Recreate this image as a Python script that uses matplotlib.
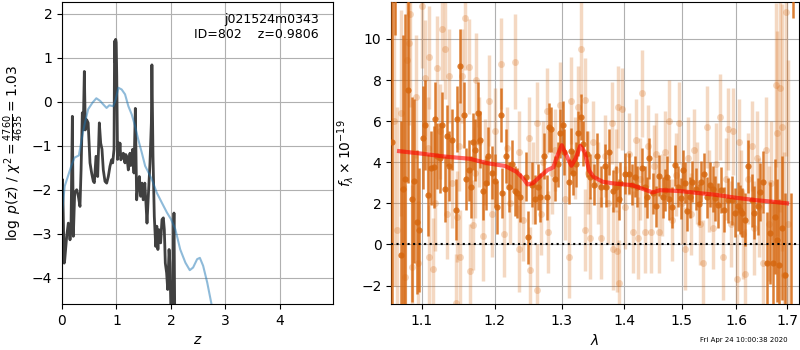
import matplotlib
matplotlib.use('Agg')
import matplotlib.pyplot as plt
import matplotlib.ticker as mticker

# --- p(z) panel data ---
z_grid = [0.0, 0.01, 0.04, 0.05, 0.086, 0.116, 0.147, 0.165, 0.19, 0.208, 0.233, 0.27, 0.30,
          0.33, 0.35, 0.373, 0.39, 0.41, 0.428, 0.453, 0.48, 0.514, 0.544, 0.575, 0.594, 0.624,
          0.655, 0.685, 0.71, 0.734, 0.758, 0.789, 0.82, 0.85, 0.88, 0.91, 0.93, 0.955, 0.965,
          0.975, 0.985, 0.995, 1.005, 1.02, 1.035, 1.05, 1.064, 1.08, 1.1, 1.125, 1.14, 1.156,
          1.17, 1.187, 1.2, 1.217, 1.235, 1.248, 1.262, 1.278, 1.297, 1.321, 1.346, 1.37, 1.395,
          1.419, 1.444, 1.468, 1.49, 1.52, 1.544, 1.56, 1.59, 1.615, 1.64, 1.65, 1.67, 1.694,
          1.72, 1.74, 1.76, 1.78, 1.81, 1.835, 1.86, 1.878, 1.896, 1.92, 1.94, 1.965, 1.98,
          2.0, 2.03, 2.055, 2.07, 2.1, 2.3, 3.0, 4.97]
logpz = [-1.9, -1.77, -3.67, -3.6, -3.06, -2.76, -3.14, -2.9, -0.33, -3.06, -2.07, -2.0, -2.15,
         -2.38, -1.55, -0.25, -0.64, 0.69, -0.64, -0.41, -0.48, -1.39, -1.62, -1.81, -1.84, -1.24,
         -1.70, -0.48, -0.94, -1.08, -1.55, -1.81, -1.85, -1.70, -1.47, -1.32, -1.39, -1.08, 1.38,
         0.9, 1.42, 1.35, 0.58, -1.31, -0.93, -1.2, -0.94, -1.32, -1.25, -1.17, -1.3, -1.39,
         -1.2, -1.24, -1.35, -1.55, -1.3, -1.17, -1.45, -1.39, -1.08, -1.62, -0.15, -2.23, -1.92,
         -1.70, -2.15, -1.85, -2.23, -1.85, -2.38, -2.76, -2.0, -1.39, -0.48, 0.84, -1.24, -2.61,
         -3.29, -2.83, -3.36, -2.91, -3.21, -2.68, -2.64, -2.91, -3.67, -3.89, -4.27, -3.36, -3.67,
         -4.8, -4.9, -2.53, -5.0, -6.5, -10.0, -20.0, -40.0]

z_chi2 = [0.0, 0.05, 0.11, 0.17, 0.23, 0.31, 0.36, 0.42, 0.48, 0.56, 0.63, 0.70, 0.757, 0.818,
          0.868, 0.94, 0.985, 1.034, 1.095, 1.157, 1.218, 1.28, 1.34, 1.40, 1.465, 1.526, 1.588,
          1.65, 1.74, 1.834, 1.926, 2.0, 2.08, 2.17, 2.265, 2.345, 2.406, 2.48, 2.53, 2.59,
          2.665, 2.74, 2.9, 3.5]
logp_chi2 = [-2.52, -1.92, -1.69, -1.46, -1.27, -1.22, -0.86, -0.48, -0.17, -0.02, 0.08, 0.02,
             -0.06, -0.14, -0.08, -0.10, 0.05, 0.32, 0.28, 0.17, -0.10, -0.29, -0.55, -0.86,
             -1.16, -1.46, -1.61, -1.77, -2.07, -2.30, -2.52, -2.67, -2.90, -3.36, -3.66, -3.83,
             -3.77, -3.58, -3.55, -3.73, -4.11, -4.58, -6.0, -12.0]

# --- spectrum panel data (flux in 1e-19 units) ---
wave_a = [1.062, 1.066, 1.074, 1.076, 1.079, 1.083, 1.087, 1.090, 1.0945, 1.097, 1.1017, 1.104,
          1.109, 1.113, 1.116, 1.118, 1.121, 1.124, 1.127, 1.131, 1.134, 1.137, 1.141, 1.146,
          1.148, 1.152, 1.157, 1.160, 1.164, 1.167, 1.169, 1.173, 1.1765, 1.179, 1.184, 1.188,
          1.191, 1.197, 1.200, 1.204, 1.209, 1.211, 1.217, 1.221, 1.225, 1.230, 1.233, 1.237,
          1.2458, 1.249, 1.254, 1.2596, 1.263, 1.266, 1.2727, 1.277, 1.2797, 1.2837, 1.289,
          1.294, 1.298, 1.302, 1.304, 1.3105, 1.314, 1.317, 1.323, 1.325, 1.3296, 1.334, 1.339,
          1.3446, 1.351, 1.356, 1.3626, 1.368, 1.371, 1.376, 1.382, 1.387, 1.391, 1.394, 1.4017,
          1.408, 1.414, 1.418, 1.422, 1.4297, 1.435, 1.439, 1.443, 1.449, 1.4537, 1.460, 1.466,
          1.470, 1.474, 1.478, 1.482, 1.4875, 1.493, 1.498, 1.502, 1.506, 1.510, 1.515, 1.519,
          1.525, 1.530, 1.535, 1.540, 1.545, 1.551, 1.556, 1.560, 1.566, 1.572, 1.578, 1.584,
          1.592, 1.597, 1.603, 1.607, 1.612, 1.617, 1.623, 1.630, 1.635, 1.642, 1.646, 1.653,
          1.660, 1.666, 1.672, 1.675, 1.680, 1.684, 1.690, 1.696, 1.709, 1.713]
flux_a = [5.0, 14.5, -0.5, 2.7, 3.2, 7.5, 2.2, 3.1, 1.1, 0.7, 5.2, 5.8,
          2.4, 3.7, 3.75, 6.1, 4.3, 4.2, 5.8, 2.7, 5.3, 3.8, 5.1, 1.7,
          6.1, 8.7, 6.3, 3.2, 3.6, 2.8, 5.0, 4.6, 6.4, 5.1, 2.6, 3.0,
          4.3, 3.5, 3.1, 1.8, 6.3, 2.5, 4.3, 2.8, 3.9, 2.6, 2.5, 2.3,
          3.3, 0.35, 2.9, 2.2, 2.8, 2.3, 4.3, 2.3, 5.7, 5.6, 3.2,
          3.9, 5.4, 5.8, 4.5, 3.05, 4.55, 3.5, 3.9, 5.4, 6.2, 4.9, 4.4,
          3.3, 2.9, 4.3, 2.8, 3.8, 2.8, 4.5, 2.6, 2.8, 2.2, 3.0, 3.45,
          3.45, 2.9, 3.3, 2.8, 3.7, 2.8, 2.3, 4.2, 2.5, 1.85, 3.35, 2.3,
          2.65, 3.3, 2.2, 1.8, 3.85, 2.8, 2.25, 3.6, 3.0, 1.65, 2.3, 3.05,
          2.7, 1.95, 3.05, 3.45, 2.3, 2.9, 2.7, 2.25, 1.9, 2.65, 1.7, 2.15,
          2.15, 1.55, 1.85, 1.7, 1.55, 1.2, 3.8, 2.15, 1.55, 1.85, 2.55, 3.05,
          -0.9, 0.55, -0.9, 1.35, 0.2, -1.0, 0.8, -1.5, -5.0, 15.0]
err_a = [9.5, 4.3, 6.5, 7.5, 8.0, 4.5, 5.0, 4.0, 3.5, 3.0, 2.5, 2.2,
         2.0, 1.8, 2.0, 1.8, 1.6, 1.7, 1.6, 1.6, 1.5, 1.7, 1.5, 1.5,
         1.6, 1.8, 1.6, 1.5, 1.5, 1.5, 1.4, 1.5, 1.5, 1.4, 1.4, 1.3,
         1.4, 1.3, 1.3, 1.3, 1.3, 1.2, 1.3, 1.2, 1.2, 1.2, 1.2, 1.2,
         1.2, 1.3, 1.1, 1.2, 1.1, 1.2, 1.1, 1.1, 1.2, 1.1, 1.1,
         1.1, 1.2, 1.2, 1.1, 1.1, 1.1, 1.1, 1.1, 1.1, 1.1, 1.1, 1.1,
         1.1, 1.0, 1.1, 1.0, 1.1, 1.0, 1.1, 1.0, 1.0, 1.0, 1.0, 1.0,
         1.0, 1.0, 1.0, 1.0, 1.0, 1.0, 1.0, 1.0, 1.0, 1.0, 1.0, 1.0,
         1.0, 1.0, 1.0, 1.0, 1.0, 1.0, 1.0, 1.0, 1.0, 1.0, 1.0, 1.0,
         1.0, 1.0, 1.0, 1.0, 1.0, 1.1, 1.1, 1.1, 1.1, 1.1, 1.1, 1.1,
         1.2, 1.2, 1.2, 1.2, 1.2, 1.3, 1.3, 1.3, 1.3, 1.4, 1.4, 1.5,
         2.5, 2.5, 3.0, 2.8, 3.0, 3.2, 3.5, 4.0, 7.5, 4.0]

wave_b = [1.064, 1.068, 1.0735, 1.079, 1.081, 1.0835, 1.0845, 1.088, 1.0925, 1.095, 1.101, 1.104,
          1.108, 1.110, 1.1105, 1.115, 1.118, 1.121, 1.124, 1.1275, 1.131, 1.134, 1.137, 1.141,
          1.146, 1.147, 1.150, 1.152, 1.1545, 1.159, 1.164, 1.165, 1.170, 1.172, 1.1738, 1.178,
          1.183, 1.187, 1.192, 1.196, 1.201, 1.2097, 1.213, 1.218, 1.222, 1.2297, 1.235, 1.236,
          1.241, 1.250, 1.251, 1.256, 1.262, 1.2625, 1.268, 1.272, 1.277, 1.279, 1.285, 1.290,
          1.298, 1.305, 1.311, 1.314, 1.320, 1.325, 1.330, 1.336, 1.337, 1.341, 1.345, 1.350,
          1.357, 1.3626, 1.368, 1.374, 1.380, 1.381, 1.386, 1.389, 1.3905, 1.391, 1.396, 1.402,
          1.408, 1.415, 1.420, 1.423, 1.427, 1.431, 1.435, 1.440, 1.446, 1.451, 1.455, 1.459,
          1.464, 1.470, 1.478, 1.483, 1.489, 1.494, 1.500, 1.506, 1.511, 1.517, 1.522, 1.528,
          1.533, 1.538, 1.545, 1.550, 1.556, 1.562, 1.570, 1.575, 1.580, 1.585, 1.590, 1.594,
          1.602, 1.605, 1.610, 1.614, 1.618, 1.622, 1.630, 1.635, 1.640, 1.645, 1.653, 1.658,
          1.663, 1.668, 1.6785, 1.680, 1.686, 1.690, 1.694, 1.697, 1.702]
flux_b = [6.0, 0.7, 6.4, -1.6, 9.0, 9.8, 11.2, -1.1, 7.2, -0.9, 11.6, 8.1,
          4.7, -0.6, 9.1, -1.2, 2.0, 8.6, 5.5, 10.5, 9.5, 1.5, 8.2, 3.0,
          -2.85, 1.35, 4.8, -0.6, 8.2, 11.0, 8.65, -1.3, 0.95, 3.5, 8.0, 5.0,
          0.4, 4.0, 7.0, 1.5, 5.5, 8.8, 0.5, 4.7, 2.0, 8.9, -0.2, 4.5,
          1.2, 5.2, -1.25, 3.0, -2.2, 5.9, 1.5, 4.0, 6.5, 0.6, 3.5, 4.6,
          6.8, 2.2, -0.6, 7.0, 4.2, 6.7, 9.5, 7.05, 0.7, 3.5, 0.3, 5.0,
          3.0, 0.3, 4.3, 2.0, 5.9, -0.2, 3.6, -0.3, 6.7, -1.9, 6.6, 1.8,
          4.4, 0.6, 5.1, 0.3, 3.2, 7.35, 0.6, 4.8, 0.6, 3.8, 4.4, 0.6,
          2.4, 4.5, 6.0, 1.2, 3.4, 5.9, 2.0, -0.2, 4.2, 1.5, 4.6, 3.0,
          1.0, -0.9, 5.7, 2.6, 0.8, 3.9, 6.2, -0.6, 3.2, 5.6, 1.0, 5.5,
          -1.7, 5.0, 2.5, 0.5, -1.45, 3.2, 4.8, 0.8, 4.2, 1.8, -0.9, 4.6,
          1.0, 3.0, 7.75, 5.4, 7.6, 5.7, -1.5, 11.3, 1.0]
err_b = [8.0, 6.0, 5.0, 4.5, 4.5, 4.0, 4.5, 4.0, 3.0, 3.0, 3.0, 2.8,
         2.5, 2.5, 2.5, 2.5, 2.3, 2.5, 2.3, 2.5, 2.4, 2.2, 2.3, 2.2,
         2.4, 2.2, 2.2, 2.3, 2.3, 2.5, 2.3, 2.3, 2.2, 2.2, 2.3, 2.2,
         2.2, 2.1, 2.2, 2.1, 2.1, 2.2, 2.1, 2.0, 2.0, 2.3, 2.1, 2.0,
         2.0, 2.0, 2.1, 2.0, 2.2, 2.0, 2.0, 2.0, 2.1, 2.0, 2.0, 2.0,
         2.1, 2.0, 2.0, 2.1, 2.0, 2.0, 2.3, 2.0, 2.0, 2.0, 2.0, 2.0,
         2.0, 2.0, 2.0, 2.0, 2.0, 2.0, 2.0, 2.0, 2.0, 2.1, 2.0, 2.0,
         2.0, 2.0, 2.0, 2.0, 2.0, 2.1, 2.0, 2.0, 2.0, 2.0, 2.0, 2.0,
         2.0, 2.0, 2.0, 2.0, 2.0, 2.0, 2.0, 2.0, 2.0, 2.0, 2.0, 2.0,
         2.0, 2.1, 2.0, 2.0, 2.0, 2.0, 2.1, 2.1, 2.0, 2.0, 2.1, 2.1,
         2.2, 2.1, 2.1, 2.2, 2.2, 2.2, 2.2, 2.3, 2.3, 2.4, 2.5, 2.6,
         2.8, 3.0, 4.0, 5.0, 6.0, 6.0, 6.0, 7.0, 8.0]

model_wave = [1.071, 1.10, 1.13, 1.165, 1.19, 1.215, 1.232, 1.242, 1.248, 1.256, 1.265, 1.278,
              1.287, 1.293, 1.300, 1.307, 1.315, 1.322, 1.329, 1.336, 1.343, 1.350, 1.365, 1.38,
              1.40, 1.413, 1.43, 1.449, 1.461, 1.48, 1.50, 1.53, 1.56, 1.60, 1.64, 1.67, 1.70]
model_flux = [4.54, 4.42, 4.28, 4.17, 3.95, 3.82, 3.53, 3.2, 2.92, 2.98, 3.25, 3.62,
              3.75, 4.3, 4.83, 4.35, 3.83, 4.2, 4.8, 4.5, 3.6, 3.29, 3.05, 2.98,
              2.92, 2.89, 2.72, 2.53, 2.64, 2.62, 2.59, 2.5, 2.42, 2.27, 2.15, 2.08, 2.0]

lam_ticks = [1.1, 1.2, 1.3, 1.4, 1.5, 1.6, 1.7]

orange = '#d6670f'

fig = plt.figure(figsize=(8, 3.5), dpi=100)
ax1 = fig.add_axes([0.0775, 0.1314, 0.3385, 0.8629])
ax2 = fig.add_axes([0.489, 0.1314, 0.50975, 0.8629])

# left: redshift probability
ax1.plot(z_grid, logpz, color='0.25', lw=2)
ax1.plot(z_chi2, logp_chi2, color='tab:blue', alpha=0.5, lw=1.5)
ax1.set_xlim(0, 4.97)
ax1.set_ylim(-4.6, 2.27)
ax1.set_xticks([0, 1, 2, 3, 4])
ax1.set_yticks([-4, -3, -2, -1, 0, 1, 2])
ax1.grid(True)
ax1.set_xlabel('$z$')
ax1.set_ylabel(r'$\log\ p(z)$ / $\chi^2=\frac{4760}{4635}=1.03$')
ax1.text(0.948, 0.965, 'j021524m0343\nID=802    z=0.9806', transform=ax1.transAxes,
         ha='right', va='top', fontsize=9)

# right: 1D spectrum
ax2.errorbar(wave_b, flux_b, yerr=err_b, color=orange, alpha=0.25, marker='o', ms=5,
             mew=0, linestyle='None', elinewidth=2.5, zorder=2)
ax2.errorbar(wave_a, flux_a, yerr=err_a, color=orange, alpha=0.85, marker='o', ms=4.5,
             mew=0, linestyle='None', elinewidth=1.8, zorder=3)
ax2.plot(model_wave, model_flux, color='red', alpha=0.6, lw=3, zorder=4)
ax2.axhline(0, color='k', linestyle=':', lw=1.5, zorder=5)
ax2.set_xscale('log')
ax2.set_xlim(1.061, 1.7245)
ax2.set_ylim(-2.9, 11.8)
ax2.xaxis.set_major_locator(mticker.FixedLocator(lam_ticks))
ax2.xaxis.set_minor_locator(mticker.NullLocator())
ax2.xaxis.set_major_formatter(mticker.FormatStrFormatter('%.1f'))
ax2.set_yticks([-2, 0, 2, 4, 6, 8, 10])
ax2.grid(True)
ax2.set_xlabel(r'$\lambda$')
ax2.set_ylabel(r'$f_\lambda\times10^{-19}$')

fig.text(0.984, 0.029, 'Fri Apr 24 10:00:38 2020', ha='right', va='center', fontsize=5)

fig.savefig('out.png', dpi=100)
plt.close(fig)
